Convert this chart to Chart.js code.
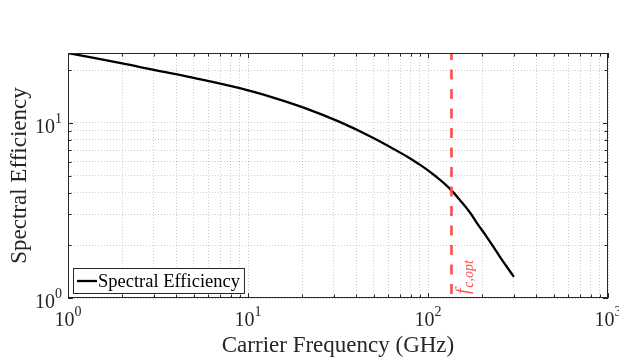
<!DOCTYPE html>
<html>
<head>
<meta charset="utf-8">
<script src="https://cdn.jsdelivr.net/npm/chart.js@4.4.0/dist/chart.umd.min.js"></script>
<style>
    html, body { margin: 0; padding: 0; background: #fff; }
    #chart { display: block; }
</style>
</head>
<body>
<canvas id="chart" width="619" height="360"></canvas>
<script>
"use strict";

// carrier frequency (GHz) vs. spectral efficiency (bit/s/Hz)
const frequencies = [1, 2, 3, 5, 9, 13.8, 21.1, 32.3, 49.4, 75.9, 90, 100, 111, 123, 135, 151, 171, 190, 211, 251, 300];
const efficiency = [25.1, 21.9, 20.1, 18.1, 15.8, 13.96, 12.08, 10.14, 8.24, 6.46, 5.78, 5.36, 4.93, 4.52, 4.12, 3.61, 3.08, 2.62, 2.25, 1.72, 1.32];
const fcOpt = 135;

const xTicks = [1, 2, 3, 4, 5, 6, 7, 8, 9, 10, 20, 30, 40, 50, 60, 70, 80, 90,
    100, 200, 300, 400, 500, 600, 700, 800, 900, 1000];
const yTicks = [1, 2, 3, 4, 5, 6, 7, 8, 9, 10, 20];
const decades = [1, 10, 100, 1000];
const decadeExp = ['0', '1', '2', '3'];

const yMin = 1;
const yMax = Math.max(...efficiency);

const SERIF = '"Liberation Serif", "DejaVu Serif", serif';
const AXIS_COLOR = '#262626';
const OPT_COLOR = '#ff4d4d';

/* draws "10" with a raised exponent, anchored by its left edge. */
const drawPower = (ctx, exp, left, baseline) => {
    ctx.font = `20px ${SERIF}`;
    const w = ctx.measureText('10').width;
    ctx.fillText('10', left, baseline);
    ctx.font = `14px ${SERIF}`;
    ctx.fillText(exp, left + w, baseline - 10);
};

const powerWidth = (ctx, exp) => {
    ctx.font = `20px ${SERIF}`;
    const w = ctx.measureText('10').width;
    ctx.font = `14px ${SERIF}`;
    return w + ctx.measureText(exp).width;
};

/* box, inward ticks, tick labels, titles, legend and the f_c,opt note. */
const axisDecor = {
    id: 'axisDecor',
    afterDraw(chart) {
        const { ctx, chartArea: a, scales: { x, y } } = chart;
        ctx.save();

        // full box round the axes
        ctx.strokeStyle = AXIS_COLOR;
        ctx.lineWidth = 1;
        ctx.setLineDash([]);
        ctx.strokeRect(a.left + 0.5, a.top + 0.5, a.right - a.left - 1, a.bottom - a.top - 1);

        // inward tick marks on all four sides
        ctx.beginPath();
        xTicks.forEach(v => {
            const px = Math.round(x.getPixelForValue(v)) + 0.5;
            const len = decades.includes(v) ? 5 : 3.5;
            ctx.moveTo(px, a.bottom);
            ctx.lineTo(px, a.bottom - len);
            ctx.moveTo(px, a.top);
            ctx.lineTo(px, a.top + len);
        });
        yTicks.forEach(v => {
            const py = Math.round(y.getPixelForValue(v)) + 0.5;
            const len = decades.includes(v) ? 5 : 3.5;
            ctx.moveTo(a.left, py);
            ctx.lineTo(a.left + len, py);
            ctx.moveTo(a.right, py);
            ctx.lineTo(a.right - len, py);
        });
        ctx.stroke();

        // tick labels
        ctx.fillStyle = AXIS_COLOR;
        ctx.textBaseline = 'alphabetic';
        ctx.textAlign = 'left';
        decades.forEach((v, i) => {
            const px = x.getPixelForValue(v);
            const w = powerWidth(ctx, decadeExp[i]);
            drawPower(ctx, decadeExp[i], px - w / 2, a.bottom + 28);
        });
        decades.forEach((v, i) => {
            if (v > yMax) return;
            const py = y.getPixelForValue(v);
            const w = powerWidth(ctx, decadeExp[i]);
            drawPower(ctx, decadeExp[i], a.left - 6 - w, py + 10);
        });

        // axis titles
        ctx.font = `23px ${SERIF}`;
        ctx.textAlign = 'center';
        ctx.fillText('Carrier Frequency (GHz)', (a.left + a.right) / 2, a.bottom + 54);
        ctx.save();
        ctx.translate(26, (a.top + a.bottom) / 2);
        ctx.rotate(-Math.PI / 2);
        ctx.fillText('Spectral Efficiency', 0, 0);
        ctx.restore();

        // legend, lower left inside the axes
        const se = chart.data.datasets[1];
        ctx.font = `18.5px ${SERIF}`;
        ctx.textAlign = 'left';
        const tw = ctx.measureText(se.label).width;
        const lx = a.left + 5, ly = a.bottom - 30, lh = 25;
        const lw = 26 + tw + 3;
        ctx.fillStyle = '#fff';
        ctx.fillRect(lx, ly, lw, lh);
        ctx.strokeStyle = AXIS_COLOR;
        ctx.lineWidth = 1;
        ctx.strokeRect(lx + 0.5, ly + 0.5, lw, lh);
        ctx.strokeStyle = se.borderColor;
        ctx.lineWidth = se.borderWidth;
        ctx.beginPath();
        ctx.moveTo(lx + 4, ly + lh / 2 + 0.5);
        ctx.lineTo(lx + 24, ly + lh / 2 + 0.5);
        ctx.stroke();
        ctx.fillStyle = '#000';
        ctx.fillText(se.label, lx + 25, ly + lh / 2 + 6.5);

        // f_c,opt note beside the dashed line
        ctx.fillStyle = OPT_COLOR;
        ctx.translate(x.getPixelForValue(fcOpt) + 18, a.bottom - 4);
        ctx.rotate(-Math.PI / 2);
        ctx.font = `italic 19px ${SERIF}`;
        const fw = ctx.measureText('f').width;
        ctx.fillText('f', 0, 0);
        ctx.font = `italic 14px ${SERIF}`;
        ctx.fillText('c,opt', fw + 1, 4);

        ctx.restore();
    }
};

// dotted light grid at every decade and sub-decade tick
const gridStyle = {
    color: 'rgba(0, 0, 0, 0.2)',
    lineWidth: 1,
    drawTicks: false,
};
const borderStyle = { display: false, dash: [1, 2] };

new Chart(document.getElementById('chart'), {
    type: 'line',
    data: {
        datasets: [
            {
                label: 'f_c,opt',
                data: [{ x: fcOpt, y: yMax }, { x: fcOpt, y: yMin }],
                borderColor: OPT_COLOR,
                borderWidth: 2.6,
                borderDash: [10, 9.5],
                borderDashOffset: 3,
                pointRadius: 0,
                order: 0,
            },
            {
                label: 'Spectral Efficiency',
                data: frequencies.map((f, i) => ({ x: f, y: efficiency[i] })),
                borderColor: '#000',
                borderWidth: 2.3,
                pointRadius: 0,
                tension: 0.4,
                borderJoinStyle: 'round',
                order: 1,
            },
        ]
    },
    options: {
        responsive: false,
        animation: false,
        layout: { padding: { left: 68, right: 11, top: 53, bottom: 62 } },
        plugins: {
            legend: { display: false },
            tooltip: { enabled: false },
        },
        scales: {
            x: {
                type: 'logarithmic',
                min: 1,
                max: 1000,
                afterBuildTicks: scale => { scale.ticks = xTicks.map(v => ({ value: v })); },
                afterFit: scale => { scale.height = 0; },
                ticks: { display: false },
                grid: { ...gridStyle },
                border: { ...borderStyle },
            },
            y: {
                type: 'logarithmic',
                min: yMin,
                max: yMax,
                afterBuildTicks: scale => { scale.ticks = yTicks.map(v => ({ value: v })); },
                afterFit: scale => { scale.width = 0; },
                ticks: { display: false },
                grid: { ...gridStyle },
                border: { ...borderStyle },
            }
        }
    },
    plugins: [axisDecor]
});
</script>
</body>
</html>
